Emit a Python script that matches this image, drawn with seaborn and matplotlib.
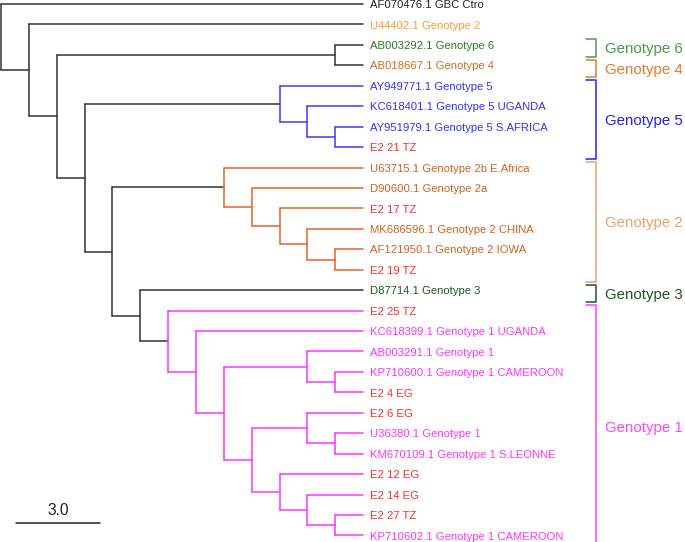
import matplotlib
matplotlib.use("Agg")
import matplotlib.pyplot as plt
import seaborn as sns
import pandas as pd

# ---------------- data ----------------
leaf_names = [
    "AF070476.1 GBC Ctro", "U44402.1 Genotype 2", "AB003292.1 Genotype 6",
    "AB018667.1 Genotype 4", "AY949771.1 Genotype 5", "KC618401.1 Genotype 5 UGANDA",
    "AY951979.1 Genotype 5 S.AFRICA", "E2 21 TZ", "U63715.1 Genotype 2b E.Africa",
    "D90600.1 Genotype 2a", "E2 17 TZ", "MK686596.1 Genotype 2 CHINA",
    "AF121950.1 Genotype 2 IOWA", "E2 19 TZ", "D87714.1 Genotype 3", "E2 25 TZ",
    "KC618399.1 Genotype 1 UGANDA", "AB003291.1 Genotype 1",
    "KP710600.1 Genotype 1 CAMEROON", "E2 4 EG", "E2 6 EG", "U36380.1 Genotype 1",
    "KM670109.1 Genotype 1 S.LEONNE", "E2 12 EG", "E2 14 EG", "E2 27 TZ",
    "KP710602.1 Genotype 1 CAMEROON",
]
leaf_colors = [
    "#222222", "#f5a030", "#267a26", "#d2691e", "#3030ff", "#3030ff", "#3030ff",
    "#ff2a2a", "#d2621e", "#d2621e", "#ff2a2a", "#d2621e", "#d2621e", "#ff2a2a",
    "#1e5a1e", "#ff2a2a", "#ff33ff", "#ff33ff", "#ff33ff", "#ff2a2a", "#ff2a2a",
    "#ff33ff", "#ff33ff", "#ff2a2a", "#ff2a2a", "#ff2a2a", "#ff33ff",
]
leaf_depth = 13.0

# internal nodes: name, depth (tree units), children, clade
node_names = ["root", "A", "B", "n64", "C", "g5", "g5b", "g5c", "D", "g2", "g2b",
              "g2c", "g2d", "g2e", "E", "F", "G", "H", "I", "I2", "J", "K", "K2",
              "Lm", "M", "M2"]
node_depths = [0, 1, 2, 12, 3, 10, 11, 12, 4, 8, 9, 10, 11, 12, 5, 6, 7, 8, 11, 12,
               9, 11, 12, 10, 11, 12]
node_children = [
    ["L0", "A"], ["L1", "B"], ["n64", "C"], ["L2", "L3"], ["g5", "D"],
    ["L4", "g5b"], ["L5", "g5c"], ["L6", "L7"], ["g2", "E"], ["L8", "g2b"],
    ["L9", "g2c"], ["L10", "g2d"], ["L11", "g2e"], ["L12", "L13"], ["L14", "F"],
    ["L15", "G"], ["L16", "H"], ["I", "J"], ["L17", "I2"], ["L18", "L19"],
    ["K", "Lm"], ["L20", "K2"], ["L21", "L22"], ["L23", "M"], ["L24", "M2"],
    ["L25", "L26"],
]
node_clades = ["base", "base", "base", "base", "base", "g5", "g5", "g5", "base",
               "g2", "g2", "g2", "g2", "g2", "base", "g1", "g1", "g1", "g1", "g1",
               "g1", "g1", "g1", "g1", "g1", "g1"]
clade_palette = {"base": "#333333", "g5": "#3a3aff", "g2": "#e8622a", "g1": "#ff33ff"}

group_names = ["Genotype 6", "Genotype 4", "Genotype 5", "Genotype 2", "Genotype 3", "Genotype 1"]
group_first = [2, 3, 4, 8, 14, 15]
group_last = [2, 3, 7, 13, 14, 26]
group_colors = ["#4a9a4a", "#e07b30", "#1f1fff", "#eba070", "#23542a", "#ff44ff"]

scale_length = 3.0
scale_label = "3.0"

# ---------------- layout ----------------
sns.set_theme(style="white")
plt.rcParams["font.family"] = ["Liberation Sans", "DejaVu Sans"]

PX_X = 27.85   # px per tree unit
PX_Y = 20.44   # px per leaf
W, H = 685, 542

fig = plt.figure(figsize=(W / 100, H / 100), dpi=100)
ax = fig.add_axes([0, 0, 1, 1])

# compute positions
pos = {}
for i in range(len(leaf_names)):
    pos[f"L{i}"] = (leaf_depth, float(i))
info = {n: (d, c, k) for n, d, c, k in zip(node_names, node_depths, node_children, node_clades)}


def place(n):
    if n in pos:
        return pos[n]
    d, ch, _ = info[n]
    ys = [place(c)[1] for c in ch]
    pos[n] = (d, sum(ys) / len(ys))
    return pos[n]


place("root")

rows = []
seg = 0
for n in node_names:
    d, ch, k = info[n]
    x, _ = pos[n]
    ys = [pos[c][1] for c in ch]
    rows += [dict(seg=seg, x=x, y=min(ys), clade=k), dict(seg=seg, x=x, y=max(ys), clade=k)]
    seg += 1
    for c in ch:
        cx, cy = pos[c]
        rows += [dict(seg=seg, x=x, y=cy, clade=k), dict(seg=seg, x=cx, y=cy, clade=k)]
        seg += 1
df = pd.DataFrame(rows)

sns.lineplot(data=df, x="x", y="y", units="seg", hue="clade", palette=clade_palette,
             estimator=None, sort=False, legend=False, linewidth=1.1, ax=ax)
ax.set_xlim(-1 / PX_X, (W - 1) / PX_X)
ax.set_ylim((H - 4) / PX_Y, -4 / PX_Y)
ax.axis("off")

LEAF_FS = 8.1
for i, (name, col) in enumerate(zip(leaf_names, leaf_colors)):
    ax.annotate(name, xy=(leaf_depth, i), xytext=(5.0, -3.0), textcoords="offset points",
                va="baseline", ha="left", fontsize=LEAF_FS, color=col)

# group brackets
GRP_FS = 10.8
bx0, bx1 = 585 / PX_X, 595 / PX_X
for name, f, l, col in zip(group_names, group_first, group_last, group_colors):
    y0, y1 = f - 0.27, l + 0.58
    ax.plot([bx0, bx1, bx1, bx0], [y0, y0, y1, y1], color=col, lw=1.1)
    ax.annotate(name, xy=(604 / PX_X, (y0 + y1) / 2), xytext=(0, -0.36 * GRP_FS),
                textcoords="offset points", va="baseline", ha="left",
                fontsize=GRP_FS, color=col)

# scale bar
sx0 = 15 / PX_X
sy = (522.7 - 4) / PX_Y
ax.plot([sx0, sx0 + scale_length], [sy, sy], color="#222222", lw=1.1)
ax.annotate(scale_label, xy=(sx0 + scale_length / 2, sy), xytext=(0, 5.5),
            textcoords="offset points", ha="center", va="baseline",
            fontsize=11.2, color="#222222")

fig.savefig("out.png", dpi=100)
